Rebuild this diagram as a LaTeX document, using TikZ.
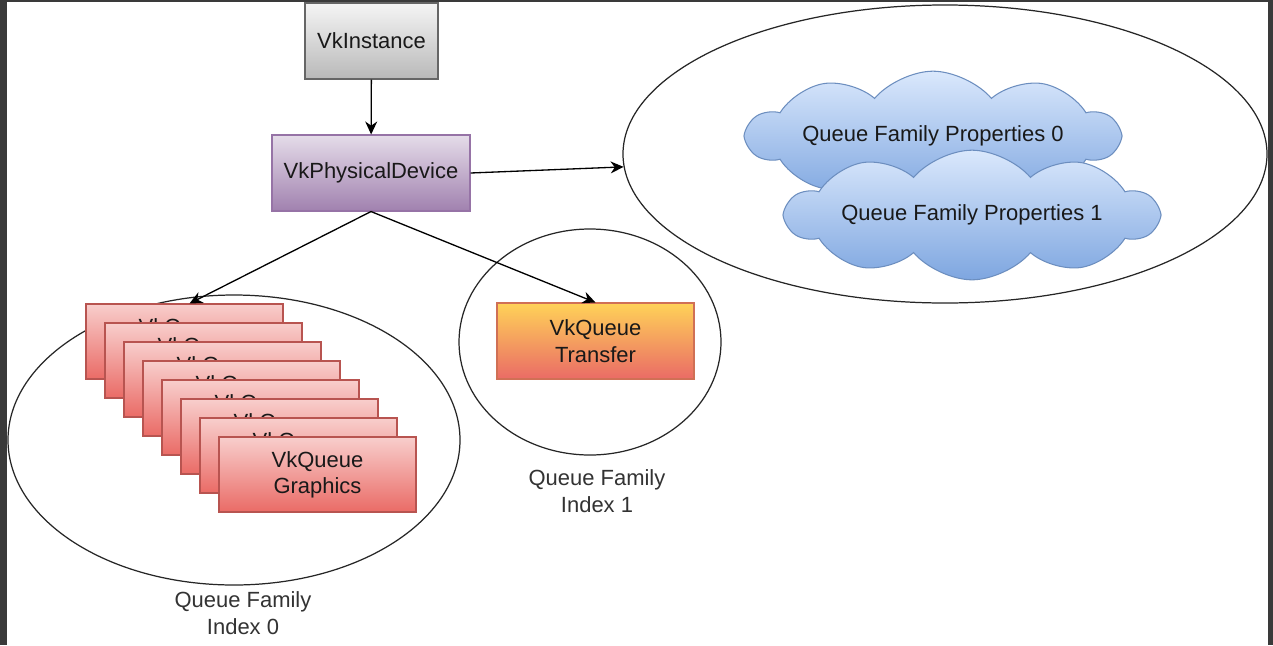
\documentclass[tikz,border=0pt]{standalone}
\usepackage{fontspec}
\setmainfont{Liberation Sans}
\usepackage{tikz}
\usetikzlibrary{positioning,arrows.meta,shapes.geometric,shapes.symbols}

\definecolor{framegray}{HTML}{3A3A3A}
\definecolor{instborder}{HTML}{666666}
\definecolor{physborder}{HTML}{9673A6}
\definecolor{redborder}{HTML}{B85450}
\definecolor{xferborder}{HTML}{D07055}
\definecolor{cloudborder}{HTML}{6C8EBF}

\begin{document}
\begin{tikzpicture}[
  font=\fontsize{12.5}{15}\selectfont,
  >={Stealth[length=2.6mm,width=2.4mm]},
  qbox/.style={rectangle, inner sep=1pt, align=center, text=black!90, line width=0.6pt},
  instbox/.style={qbox, draw=instborder, top color=gray!8, bottom color=gray!55, minimum width=2.66cm, minimum height=1.52cm},
  physbox/.style={qbox, draw=physborder, top color=physborder!25, bottom color=physborder!90, minimum width=3.96cm, minimum height=1.52cm},
  gfxbox/.style={qbox, draw=redborder, top color={rgb,255:red,248;green,206;blue,204}, bottom color={rgb,255:red,234;green,107;blue,102}, minimum width=3.94cm, minimum height=1.50cm},
  xferbox/.style={qbox, draw=xferborder, top color={rgb,255:red,255;green,210;blue,88}, bottom color={rgb,255:red,234;green,107;blue,102}, minimum width=3.94cm, minimum height=1.52cm},
  propcloud/.style={cloud, cloud puffs=10, cloud puff arc=100, aspect=4.6, draw=cloudborder, line width=0.6pt, top color={rgb,255:red,218;green,232;blue,252}, bottom color={rgb,255:red,126;green,166;blue,224}, minimum width=7.42cm, minimum height=2.52cm, inner sep=0pt, text=black!90},
  famring/.style={ellipse, draw=black!85, line width=0.7pt, inner sep=0pt},
  famlabel/.style={align=center, text=black!80},
  devarrow/.style={->, draw=black, line width=0.75pt}
]
  % frame and page
  \fill[framegray] (0,0) rectangle (25.46,-12.90);
  \fill[white] (0.14,-0.04) rectangle (25.36,-12.90);
  \useasboundingbox (0,0) rectangle (25.46,-12.90);

  % queue family rings
  \node[famring, minimum width=12.88cm, minimum height=5.96cm] (propsfam) at (18.90,-3.08) {};
  \node[famring, minimum width=9.04cm, minimum height=5.80cm] (fam0) at (4.68,-8.80) {};
  \node[famring, minimum width=5.24cm, minimum height=4.52cm] (fam1) at (11.80,-6.84) {};

  \node[instbox] (inst) at (7.43,-0.82) {VkInstance};
  \node[physbox] (phys) at (7.42,-3.46) {VkPhysicalDevice};

  % properties clouds
  \node[propcloud] (props0) at (18.66,-2.72) {Queue Family Properties 0};
  \node[propcloud] (props1) at (19.44,-4.30) {Queue Family Properties 1};

  % graphics queue stack
  \foreach \i in {0,...,7}
    \node[gfxbox] (gfx\i) at ({3.69+0.38*\i},{-6.83-0.38*\i}) {VkQueue\\Graphics};
  \node[xferbox] (xfer) at (11.91,-6.82) {VkQueue\\Transfer};

  \node[famlabel] (lab0) at (4.86,-12.26) {Queue Family\\Index 0};
  \node[famlabel] (lab1) at (11.94,-9.82) {Queue Family\\Index 1};

  \draw[devarrow] (inst) -- (phys);
  \draw[devarrow] (phys.east) -- (propsfam);
  \draw[devarrow] (phys.south) -- ([xshift=0.1cm]gfx0.north);
  \draw[devarrow] (phys.south) -- (xfer.north);
\end{tikzpicture}
\end{document}
